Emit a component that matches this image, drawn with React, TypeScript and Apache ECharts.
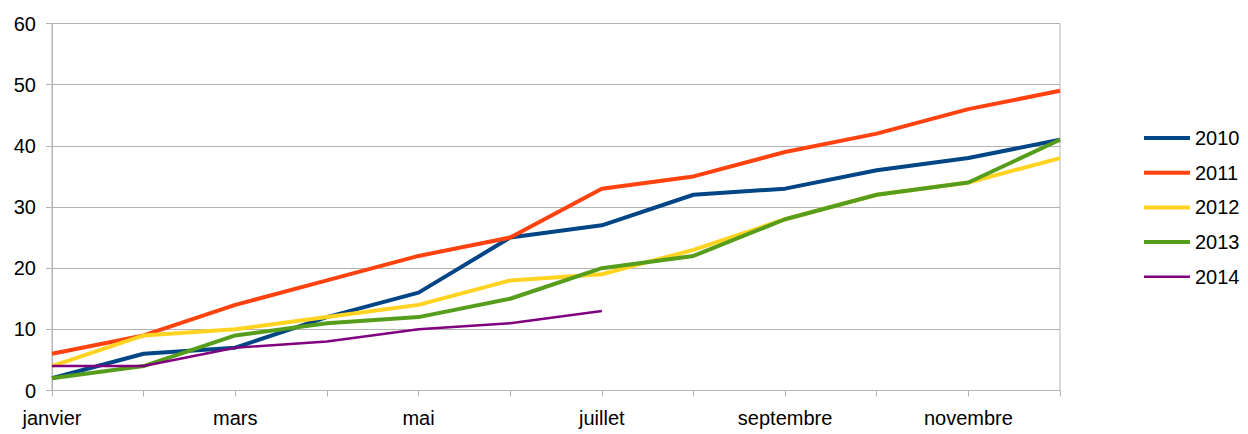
import React, { useEffect, useRef } from "react";
import * as echarts from "echarts";

const months = ["janvier", "février", "mars", "avril", "mai", "juin", "juillet", "août", "septembre", "octobre", "novembre", "décembre"];
const s2010 = [2, 6, 7, 12, 16, 25, 27, 32, 33, 36, 38, 41];
const s2011 = [6, 9, 14, 18, 22, 25, 33, 35, 39, 42, 46, 49];
const s2012 = [4, 9, 10, 12, 14, 18, 19, 23, 28, 32, 34, 38];
const s2013 = [2, 4, 9, 11, 12, 15, 20, 22, 28, 32, 34, 41];
const s2014 = [4, 4, 7, 8, 10, 11, 13];

const seriesDefs = [
  { name: "2010", data: s2010, color: "#004586", width: 4 },
  { name: "2011", data: s2011, color: "#ff420e", width: 4 },
  { name: "2012", data: s2012, color: "#ffd320", width: 4 },
  { name: "2013", data: s2013, color: "#579d1c", width: 4 },
  { name: "2014", data: s2014, color: "#800080", width: 2.5 },
];

export default function App() {
  const ref = useRef<HTMLDivElement>(null);
  useEffect(() => {
    const chart = echarts.init(ref.current!, null, { renderer: "svg" });
    const grey = "#b3b3b3";
    chart.setOption({
      animation: false,
      textStyle: { fontFamily: "Liberation Sans, Arial, sans-serif" },
      grid: {
        left: 52,
        right: 188,
        top: 23.5,
        bottom: 43.5,
        show: true,
        borderColor: grey,
        borderWidth: 1,
      },
      legend: {
        orient: "vertical",
        left: 1139,
        top: 123,
        itemWidth: 46,
        itemHeight: 14,
        itemGap: 14.7,
        symbolKeepAspect: true,
        textStyle: { fontSize: 20, color: "#000", lineHeight: 20, fontFamily: "Liberation Sans, Arial, sans-serif" },
        data: seriesDefs.map((s) => ({
          name: s.name,
          icon: `path://M0,0H46V${s.width}H0Z`,
          itemStyle: { color: s.color },
        })),
      },
      xAxis: {
        type: "category",
        data: months,
        boundaryGap: false,
        axisLine: { lineStyle: { color: grey } },
        axisTick: { show: true, length: 6, interval: 0, lineStyle: { color: grey } },
        axisLabel: { interval: 1, fontSize: 20, color: "#000", margin: 17 },
        splitLine: { show: false },
      },
      yAxis: {
        type: "value",
        min: 0,
        max: 60,
        interval: 10,
        axisLine: { show: true, lineStyle: { color: grey } },
        axisTick: { show: true, length: 6, lineStyle: { color: grey } },
        axisLabel: { fontSize: 20, color: "#000", margin: 16 },
        splitLine: { show: true, lineStyle: { color: grey } },
      },
      series: seriesDefs.map((s) => ({
        name: s.name,
        type: "line",
        data: s.data,
        symbol: "none",
        showSymbol: false,
        color: s.color,
        lineStyle: { color: s.color, width: s.width },
      })),
    });
    return () => chart.dispose();
  }, []);
  return <div ref={ref} style={{ width: 1248, height: 434, position: "absolute", left: 0, top: 0 }} />;
}
